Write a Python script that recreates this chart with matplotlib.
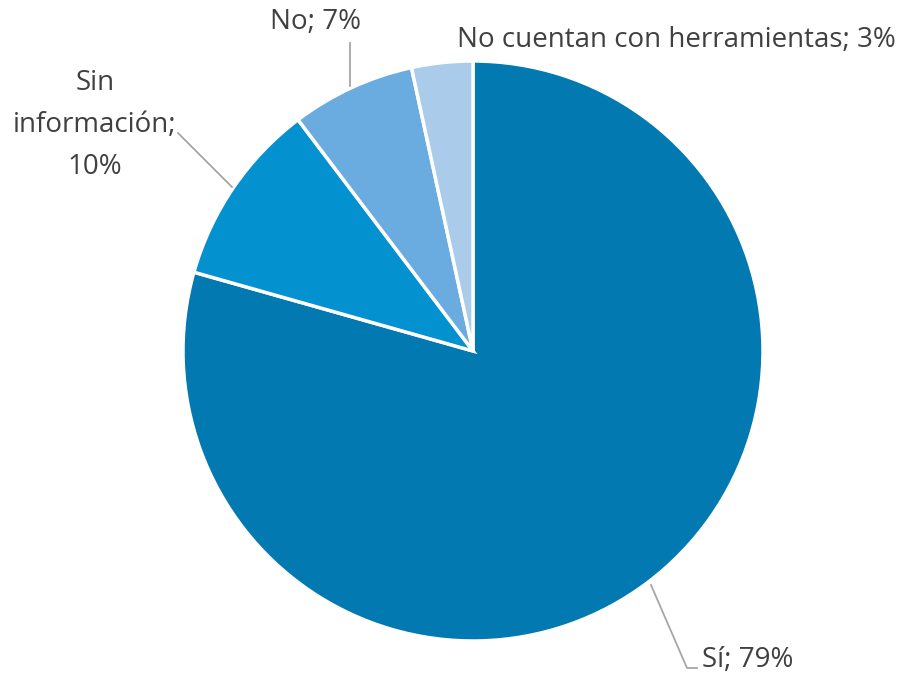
import matplotlib
matplotlib.use("Agg")
import matplotlib.pyplot as plt

categories = ["Sí", "Sin información", "No", "No cuentan con herramientas"]
values = [79.3, 10.3, 6.9, 3.4]
pct_labels = ["79%", "10%", "7%", "3%"]
colors = ["#0279B0", "#0391CF", "#6AACDF", "#AACBEA"]

plt.rcParams['font.family'] = ['Open Sans', 'DejaVu Sans']
W, H = 906, 673
cx, cy, R = 473, 351, 290
fig = plt.figure(figsize=(W / 100, H / 100), dpi=100)
ax = fig.add_axes([(cx - R) / W, (H - cy - R) / H, 2 * R / W, 2 * R / H])
ax.pie(values, colors=colors, startangle=90, counterclock=False,
       wedgeprops=dict(edgecolor="white", linewidth=2.5), radius=1)
ax.set_xlim(-1, 1)
ax.set_ylim(-1, 1)
ax.set_aspect("equal")
ax.axis("off")


def d(px, py):
    return ((px - cx) / R, (cy - py) / R)


tc = "#404040"
lc = "#A6A6A6"
fs = 20

# Sí
xs, ys = zip(d(651, 585), d(687, 668), d(697, 668))
ax.plot(xs, ys, color=lc, lw=1.3, clip_on=False)
ax.text(*d(702, 660), f"{categories[0]}; {pct_labels[0]}", ha="left", va="center",
        fontsize=fs, color=tc)

# Sin información
xs, ys = zip(d(178, 133), d(232, 187))
ax.plot(xs, ys, color=lc, lw=1.3, clip_on=False)
ax.text(*d(95, 125), "Sin\ninformación;\n" + pct_labels[1], ha="center", va="center",
        fontsize=fs, color=tc, linespacing=1.68)

# No
xs, ys = zip(d(350, 43), d(350, 86))
ax.plot(xs, ys, color=lc, lw=1.3, clip_on=False)
ax.text(*d(316, 22), f"{categories[2]}; {pct_labels[2]}", ha="center", va="center",
        fontsize=fs, color=tc)

# No cuentan con herramientas
ax.text(*d(676, 40), f"{categories[3]}; {pct_labels[3]}", ha="center", va="center",
        fontsize=fs, color=tc)

fig.savefig("out.png", dpi=100)
